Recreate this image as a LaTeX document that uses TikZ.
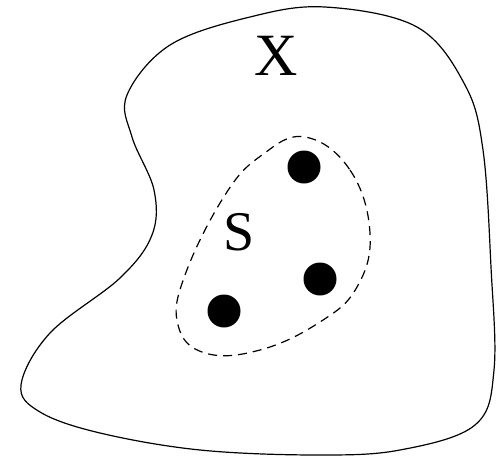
\documentclass[tikz,border=0pt]{standalone}
\usepackage{fontspec}
\setmainfont{Liberation Serif}
\usepackage{tikz}
\tikzset{dot/.style={circle,fill=black,inner sep=0pt,minimum size=33pt}}

\begin{document}
\begin{tikzpicture}[x=1pt,y=-1pt,line width=1.2pt]
\useasboundingbox (0,0) rectangle (496,458);
% outer set X
\draw plot[smooth cycle,tension=.6] coordinates {(325,7) (417,27) (465,85) (483,150) (491,267) (494,370) (475,425) (400,450) (317,455) (200,450) (100,433) (40,412) (21,385) (50,333) (120,278) (152,235) (154,190) (132,137) (127,95) (170,45) (250,17)};
\node[font=\fontsize{60}{60}\selectfont] (X) at (276,56){X};
% subset S, dashed
\draw[dashed,dash pattern=on 9pt off 6pt] plot[smooth cycle,tension=.7] coordinates {(305,137) (350,170) (370,233) (357,287) (320,322) (260,350) (205,353) (178,325) (185,275) (225,195) (262,155)};
\node[font=\fontsize{56}{56}\selectfont] (S) at (239,232){S};
% points of S
\node[dot] (p1) at (304,167){};
\node[dot] (p2) at (320,279){};
\node[dot] (p3) at (224,311){};
\end{tikzpicture}
\end{document}
